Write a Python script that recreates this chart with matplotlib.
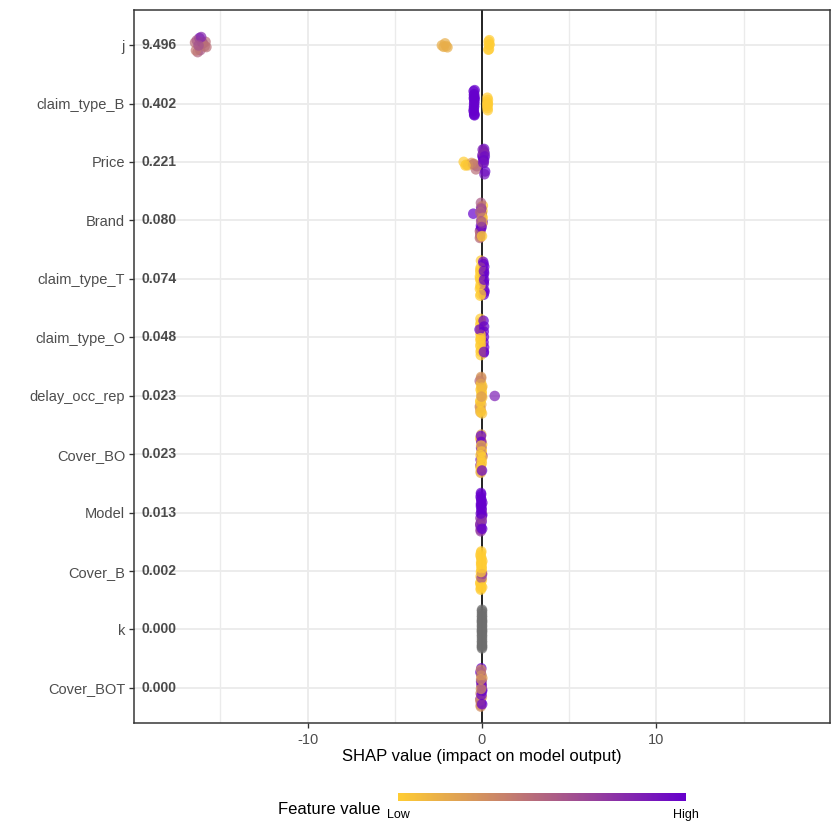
import numpy as np
import matplotlib
matplotlib.use("Agg")
import matplotlib.pyplot as plt
from matplotlib.colors import LinearSegmentedColormap, Normalize
from matplotlib.cm import ScalarMappable

plt.rcParams['font.family'] = ['Liberation Sans', 'DejaVu Sans']
plt.rcParams['axes.unicode_minus'] = False

# ---------------- data ----------------
features = ["j", "claim_type_B", "Price", "Brand", "claim_type_T", "claim_type_O",
            "delay_occ_rep", "Cover_BO", "Model", "Cover_B", "k", "Cover_BOT"]
mean_abs_labels = ["9.496", "0.402", "0.221", "0.080", "0.074", "0.048",
                   "0.023", "0.023", "0.013", "0.002", "0.000", "0.000"]

shap_j = [-16.45, -16.30, -2.30, 0.38, -16.15, -16.00, 0.42, -2.05, -15.85, -16.40, 0.40, -16.20,
          -2.20, -16.05, 0.36, -15.90, -16.35, -1.98, 0.44, -16.10, -15.80, -2.12, 0.40, -16.25]
fval_j = [0.45, 0.50, 0.15, 0.0, 0.55, 0.85, 0.0, 0.15, 0.45, 0.40, 0.0, 0.90,
          0.15, 0.50, 0.0, 0.45, 0.55, 0.15, 0.0, 0.80, 0.45, 0.15, 0.0, 0.60]

shap_claim_type_B = [-0.47, -0.43, 0.32, -0.45, -0.48, 0.30, -0.42, -0.46, 0.34, -0.44, -0.45, 0.31,
                     -0.47, -0.43, 0.33, -0.45, -0.46, 0.32, -0.44, -0.48, 0.30, -0.42, -0.45, 0.34]
fval_claim_type_B = [1, 1, 0, 1, 1, 0, 1, 1, 0, 1, 1, 0,
                     1, 1, 0, 1, 1, 0, 1, 1, 0, 1, 1, 0]

shap_Price = [0.05, -0.35, 0.10, 0.15, -0.90, 0.08, 0.12, -0.45, 0.02, 0.18, -1.05, 0.10,
              -0.30, 0.06, 0.14, -0.60, 0.09, -0.80, 0.11, 0.04, -0.50, 0.16, -0.95, 0.07]
fval_Price = [0.95, 0.45, 0.85, 1.0, 0.05, 0.75, 0.95, 0.35, 0.9, 1.0, 0.0, 0.8,
              0.5, 1.0, 0.9, 0.25, 0.7, 0.1, 1.0, 0.85, 0.4, 0.95, 0.0, 0.9]

shap_Brand = [-0.02, -0.09, 0.04, -0.05, -0.12, 0.00, -0.50, -0.06, 0.03, -0.10, -0.03, 0.05,
              -0.07, -0.01, -0.12, 0.02, -0.04, -0.09, 0.04, -0.06, -0.02, -0.10, 0.00, -0.05]
fval_Brand = [0.5, 0.0, 0.9, 0.45, 0.55, 0.0, 1.0, 0.95, 0.0, 0.5, 0.6, 0.0,
              1.0, 0.4, 0.5, 0.0, 0.85, 0.45, 0.0, 0.55, 1.0, 0.5, 0.0, 0.6]

shap_claim_type_T = [-0.10, 0.10, -0.08, 0.13, -0.12, 0.08, -0.06, 0.11, -0.09, 0.14, -0.11, 0.09,
                     -0.07, 0.12, -0.10, 0.10, -0.08, 0.13, -0.12, 0.07, -0.09, 0.11, -0.06, 0.12]
fval_claim_type_T = [0, 1, 0, 1, 0, 1, 0, 1, 0, 1, 0, 1,
                     0, 1, 0, 1, 0, 1, 0, 1, 0, 1, 0, 1]

shap_claim_type_O = [-0.08, 0.10, -0.06, -0.10, 0.12, -0.07, -0.09, 0.09, -0.05, -0.08, 0.11, -0.06,
                     -0.10, 0.10, -0.07, -0.09, 0.12, -0.05, -0.08, 0.09, -0.06, -0.14, 0.11, -0.07]
fval_claim_type_O = [0, 1, 0, 0, 1, 0, 0, 1, 0, 0, 1, 0,
                     0, 1, 0, 0, 1, 0, 0, 1, 0, 1, 1, 0]

shap_delay_occ_rep = [-0.04, -0.09, 0.01, -0.06, -0.12, -0.02, -0.05, -0.10, 0.02, -0.07, -0.03, -0.13,
                      -0.04, -0.08, 0.00, 0.73, -0.06, -0.11, -0.02, -0.05, -0.09, -0.01, -0.07, -0.03]
fval_delay_occ_rep = [0.0, 0.2, 0.0, 0.1, 0.45, 0.0, 0.25, 0.0, 0.05, 0.3, 0.0, 0.5,
                      0.15, 0.0, 0.05, 0.85, 0.0, 0.2, 0.0, 0.3, 0.0, 0.1, 0.0, 0.25]

shap_Cover_BO = [-0.03, -0.07, 0.02, -0.05, -0.09, -0.02, -0.04, -0.08, 0.01, -0.06, -0.03, -0.10,
                 -0.01, -0.05, -0.07, 0.02, -0.04, -0.09, -0.02, -0.06, -0.03, -0.05, 0.00, -0.08]
fval_Cover_BO = [0, 0.1, 1, 0, 1, 0, 0.2, 1, 0, 0, 1, 0,
                 0, 1, 0.15, 0, 1, 0, 0, 1, 0, 0.1, 1, 0]

shap_Model = [-0.04, -0.08, 0.01, -0.05, -0.10, -0.02, -0.06, -0.09, 0.02, -0.05, -0.03, -0.08,
              -0.02, -0.06, -0.07, 0.00, -0.04, -0.10, -0.03, -0.05, -0.02, -0.06, 0.01, -0.07]
fval_Model = [1, 0.7, 1, 1, 0.65, 1, 1, 0.75, 1, 1, 0.7, 1,
              1, 1, 0.7, 1, 1, 0.8, 1, 1, 0.65, 1, 1, 1]

shap_Cover_B = [-0.03, -0.07, 0.01, -0.05, -0.09, -0.02, -0.04, -0.08, 0.02, -0.05, -0.03, -0.09,
                -0.01, -0.05, -0.07, 0.00, -0.04, -0.10, -0.02, -0.06, -0.03, -0.05, 0.01, -0.06]
fval_Cover_B = [0, 0, 0, 0, 0, 0, 0, 0, 0, 0, 0, 0,
                0, 0, 0, 0.9, 0, 0, 0, 0, 0.6, 0, 0, 0]

shap_k = [0.0] * 24
fval_k = [np.nan] * 24

shap_Cover_BOT = [-0.03, -0.07, 0.01, -0.05, -0.09, -0.02, -0.04, -0.08, 0.02, -0.05, -0.03, -0.09,
                  -0.01, -0.05, -0.07, 0.00, -0.04, -0.10, -0.02, -0.06, -0.03, -0.05, 0.01, -0.06]
fval_Cover_BOT = [1, 0.3, 1, 0.25, 1, 0.35, 1, 0.3, 0.2, 1, 0.3, 1,
                  0.25, 1, 0.3, 1, 0.35, 0.25, 1, 0.3, 1, 0.25, 1, 0.3]

shap_values = [shap_j, shap_claim_type_B, shap_Price, shap_Brand, shap_claim_type_T,
               shap_claim_type_O, shap_delay_occ_rep, shap_Cover_BO, shap_Model, shap_Cover_B,
               shap_k, shap_Cover_BOT]
feature_values = [fval_j, fval_claim_type_B, fval_Price, fval_Brand, fval_claim_type_T,
                  fval_claim_type_O, fval_delay_occ_rep, fval_Cover_BO, fval_Model, fval_Cover_B,
                  fval_k, fval_Cover_BOT]

# ---------------- style ----------------
LOW, HIGH = "#FFCC33", "#6600CC"
NA_COL = "#6E6E6E"
cmap = LinearSegmentedColormap.from_list("shap", [LOW, HIGH])

# ---------------- sina-like vertical layout (count density) ----------------
BW = 0.3
MAXW = 0.35

def count_density(xs):
    xs = np.asarray(xs, float)
    d = xs[:, None] - xs[None, :]
    return np.exp(-0.5 * (d / BW) ** 2).sum(axis=1) / (BW * np.sqrt(2 * np.pi))

dens = [count_density(v) for v in shap_values]
gmax = max(d.max() for d in dens)
golden = 0.6180339887

fig = plt.figure(figsize=(7, 7), dpi=120)
ax = fig.add_axes([134 / 840, 1 - 723 / 840, (830 - 134) / 840, (723 - 10) / 840])

ax.axvline(0, color="black", lw=1.0, zorder=2)

for i, (sv, fv, dv) in enumerate(zip(shap_values, feature_values, dens)):
    sv = np.asarray(sv, float)
    fv = np.asarray(fv, float)
    n = len(sv)
    u = 2 * (((np.arange(n) + 0.5) * golden) % 1.0) - 1
    yoff = MAXW * dv / gmax * u
    cols = [NA_COL if np.isnan(f) else cmap(f) for f in fv]
    ax.scatter(sv, i + yoff, c=cols, s=40, alpha=0.7, linewidths=0, zorder=3)

# mean |SHAP| labels
for i, lab in enumerate(mean_abs_labels):
    ax.annotate(lab, xy=(0, i), xycoords=("axes fraction", "data"), xytext=(7, 0),
                textcoords="offset pixels", ha="left", va="center", fontsize=8.4,
                fontweight="bold", color="black", alpha=0.7, zorder=4)

ax.set_xlim(-19.95, 19.95)
ax.set_ylim(len(features) - 0.4, -0.6)
ax.set_yticks(range(len(features)))
ax.set_yticklabels(features)
ax.set_xticks([-10, 0, 10])
ax.set_xticks([-15, -5, 5, 15], minor=True)

ax.grid(True, which="major", color="#EBEBEB", lw=1.1, zorder=0)
ax.grid(True, which="minor", axis="x", color="#EBEBEB", lw=0.8, zorder=0)
ax.set_axisbelow(True)
for sp in ax.spines.values():
    sp.set_color("#333333")
    sp.set_linewidth(0.9)

ax.tick_params(axis="both", which="major", length=2.75, width=0.8, color="#333333",
               labelcolor="#4D4D4D", labelsize=8.8, pad=2.6)
ax.tick_params(axis="x", which="major", pad=3.2)
ax.tick_params(axis="x", which="minor", length=0)

fig.text(482 / 840, 1 - 757 / 840, "SHAP value (impact on model output)",
         ha="center", va="center", fontsize=10, color="black")

# colour bar legend
cax = fig.add_axes([398 / 840, 1 - 801 / 840, 288 / 840, 8 / 840])
sm = ScalarMappable(norm=Normalize(0, 1), cmap=cmap)
cb = fig.colorbar(sm, cax=cax, orientation="horizontal")
cb.outline.set_visible(False)
cb.set_ticks([0, 1])
cb.set_ticklabels(["Low", "High"])
cax.tick_params(length=0, labelsize=7.5, pad=5, labelcolor="black")
fig.text(380 / 840, 1 - 809 / 840, "Feature value", ha="right", va="center",
         fontsize=10, color="black")

fig.savefig("out.png", dpi=120)
